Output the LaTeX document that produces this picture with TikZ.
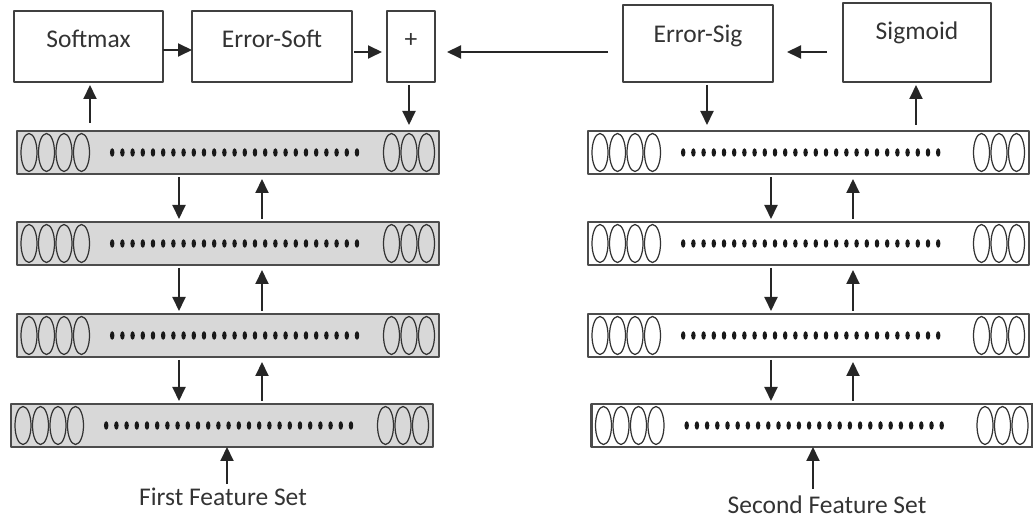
\documentclass[tikz,border=0pt]{standalone}
\usepackage{fontspec}
\setmainfont{Carlito}
\usepackage{tikz}
\usetikzlibrary{calc}
\usetikzlibrary{arrows.meta}
\definecolor{layergray}{RGB}{216,216,216}
% one layer: name, centre, width, fill, number of dots
\newcommand{\neuronlayer}[5]{
    \node[layer,minimum width=#3cm,fill=#4] (#1) at (#2) {};
    \foreach \k in {0,...,3}
        \draw[unitcirc] ($(#1.west)+(0.24+0.35*\k,0)$) ellipse (0.16 and 0.38);
    \foreach \k in {0,...,2}
        \draw[unitcirc] ($(#1.east)+(-0.25-0.35*\k,0)$) ellipse (0.16 and 0.38);
    \foreach \k in {1,...,#5}
        \fill[black!90] ($(#1.west)+(1.7+0.204*\k,0)$) ellipse (0.045 and 0.085);
}

\begin{document}
\begin{tikzpicture}[>={Triangle[length=0.28cm,width=0.26cm]},line join=bevel,
    box/.style={draw=black!75,line width=1pt,inner sep=0pt,outer sep=0pt,anchor=base,
        font=\fontsize{14.5}{17}\selectfont,text=black!80},
    layer/.style={draw=black!70,line width=1.3pt,inner sep=0pt,outer sep=0pt,minimum height=0.86cm},
    unitcirc/.style={draw=black!80,line width=0.7pt},
    flow/.style={->,line width=1.1pt,draw=black!85},
    caption/.style={inner sep=1pt,font=\fontsize{14.5}{17}\selectfont,text=black!80}]
\useasboundingbox (0,0) rectangle (20.66,10.42);
% output units
\node[box,minimum width=2.98cm,text height=0.74cm,text depth=0.68cm] (soft) at (1.77,9.46) {Softmax};
\node[box,minimum width=3.2cm,text height=0.74cm,text depth=0.68cm] (errsoft) at (5.44,9.46) {Error-Soft};
\node[box,minimum width=0.96cm,text height=0.74cm,text depth=0.68cm] (plus) at (8.22,9.46) {+};
\node[box,minimum width=3.0cm,text height=0.76cm,text depth=0.78cm] (errsig) at (13.96,9.56) {Error-Sig};
\node[box,minimum width=2.96cm,text height=0.74cm,text depth=0.84cm] (sigmoid) at (18.34,9.62) {Sigmoid};
% hidden layers
\neuronlayer{L1}{4.56,7.37}{8.44}{layergray}{25}
\neuronlayer{L2}{4.56,5.55}{8.44}{layergray}{25}
\neuronlayer{L3}{4.56,3.71}{8.44}{layergray}{25}
\neuronlayer{L4}{4.44,1.91}{8.44}{layergray}{25}
\neuronlayer{R1}{16.17,7.37}{8.82}{white}{26}
\neuronlayer{R2}{16.17,5.55}{8.82}{white}{26}
\neuronlayer{R3}{16.17,3.71}{8.82}{white}{26}
\neuronlayer{R4}{16.24,1.91}{8.82}{white}{26}
% inputs
\node[caption] (first) at (4.46,0.48) {First Feature Set};
\node[caption] (second) at (16.54,0.32) {Second Feature Set};
% top row
\coordinate (mid) at ([yshift=-0.11cm]plus.east);
\draw[flow] ([yshift=-0.07cm]soft.east) -- ([yshift=-0.07cm]errsoft.west);
\draw[flow,shorten <=0.04cm,shorten >=0.1cm] (errsoft.east |- mid) -- (plus.west |- mid);
\draw[flow,shorten <=0.3cm,shorten >=0.24cm] (errsig.west |- mid) -- (mid);
\draw[flow,shorten <=0.32cm,shorten >=0.28cm] (sigmoid.west |- mid) -- (errsig.east |- mid);
% into and out of the top layers
\draw[flow,shorten <=0.16cm,shorten >=0.06cm] (1.80,0 |- L1.north) -- (1.80,0 |- soft.south);
\draw[flow,shorten <=0.06cm,shorten >=0.12cm] (8.18,0 |- plus.south) -- (8.18,0 |- L1.north);
\draw[flow,shorten <=0.06cm,shorten >=0.12cm] (14.14,0 |- errsig.south) -- (14.14,0 |- R1.north);
\draw[flow,shorten <=0.12cm,shorten >=0.06cm] (18.32,0 |- R1.north) -- (18.32,0 |- sigmoid.south);
% between layers
\foreach \up/\dn in {L1/L2,L2/L3,L3/L4} {
    \draw[flow,shorten <=0.06cm,shorten >=0.06cm] (3.58,0 |- \up.south) -- (3.58,0 |- \dn.north);
    \draw[flow,shorten <=0.06cm,shorten >=0.1cm] (5.24,0 |- \dn.north) -- (5.24,0 |- \up.south);
}
\foreach \up/\dn in {R1/R2,R2/R3,R3/R4} {
    \draw[flow,shorten <=0.06cm,shorten >=0.06cm] (15.42,0 |- \up.south) -- (15.42,0 |- \dn.north);
    \draw[flow,shorten <=0.06cm,shorten >=0.1cm] (17.06,0 |- \dn.north) -- (17.06,0 |- \up.south);
}
\draw[flow,shorten <=0.04cm] (4.54,0 |- first.north) -- (4.54,0 |- L4.south);
\draw[flow,shorten <=0.1cm] (16.26,0 |- second.north) -- (16.26,0 |- R4.south);
\end{tikzpicture}
\end{document}
